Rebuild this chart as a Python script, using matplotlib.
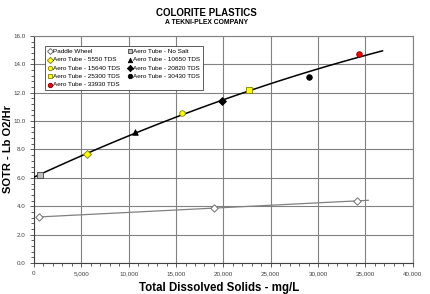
import numpy as np
import matplotlib.pyplot as plt
from matplotlib.ticker import MultipleLocator, FuncFormatter

# paddle wheel tests
paddle_tds = [550, 19000, 34100]
paddle_sotr = [3.25, 3.88, 4.38]

# aero tube tests
aero_labels = ["Aero Tube - No Salt", "Aero Tube - 5550 TDS", "Aero Tube - 10650 TDS",
               "Aero Tube - 15640 TDS", "Aero Tube - 20820 TDS", "Aero Tube - 25300 TDS",
               "Aero Tube - 30430 TDS", "Aero Tube - 33930 TDS"]
aero_tds = [630, 5590, 10660, 15620, 19850, 22700, 29000, 34300]
aero_sotr = [6.2, 7.68, 9.23, 10.57, 11.42, 12.19, 13.1, 14.72]
aero_markers = ["s", "D", "^", "o", "D", "s", "o", "o"]
aero_faces = ["#c0c0c0", "#ffff00", "black", "#ffff00", "black", "#ffff00", "black", "#ff0000"]
aero_edges = ["#404040", "#808000", "black", "#808000", "black", "#808000", "black", "#800000"]

plt.rcParams['font.family'] = ['Liberation Sans', 'DejaVu Sans']

fig = plt.figure(figsize=(4.3, 2.94), dpi=100)
ax = fig.add_axes([0.079, 0.105, 0.881, 0.773])

# trend lines
c = np.polyfit(aero_tds, aero_sotr, 2)
xs = np.linspace(0, 36800, 100)
ax.plot(xs, np.polyval(c, xs), color="black", lw=1.1, zorder=3)
c2 = np.polyfit(paddle_tds, paddle_sotr, 1)
xs2 = np.linspace(550, 35300, 10)
ax.plot(xs2, np.polyval(c2, xs2), color="#808080", lw=0.9, zorder=3)

handles = []
h = ax.scatter(paddle_tds, paddle_sotr, marker="D", s=14, facecolor="white",
               edgecolor="#707070", linewidths=0.7, zorder=4, label="Paddle Wheel")
handles.append(h)
for lab, x, y, m, f, e in zip(aero_labels, aero_tds, aero_sotr, aero_markers, aero_faces, aero_edges):
    s = 16 if m != "s" else 20
    h = ax.scatter([x], [y], marker=m, s=s, facecolor=f, edgecolor=e,
                   linewidths=0.6, zorder=5, label=lab)
    handles.append(h)

ax.set_xlim(0, 40000)
ax.set_ylim(0, 16)
ax.xaxis.set_major_locator(MultipleLocator(5000))
ax.xaxis.set_minor_locator(MultipleLocator(1000))
ax.yaxis.set_major_locator(MultipleLocator(2))
ax.yaxis.set_minor_locator(MultipleLocator(0.4))
ax.xaxis.set_major_formatter(FuncFormatter(lambda v, p: f"{int(v):,}"))
ax.yaxis.set_major_formatter(FuncFormatter(lambda v, p: f"{v:.1f}"))
ax.grid(True, which="major", color="#808080", lw=0.8)
ax.set_axisbelow(True)
ax.tick_params(which="both", labelsize=4.5, colors="#404040", length=2, width=0.6, pad=3)
ax.tick_params(which="major", length=3)
for sp in ax.spines.values():
    sp.set_color("#808080")
    sp.set_linewidth(0.8)
ax.spines["left"].set_color("#404040")
ax.spines["bottom"].set_color("#404040")

ax.set_xlabel("Total Dissolved Solids - mg/L", fontsize=8.3, fontweight="bold")
ax.set_ylabel("SOTR - Lb O2/Hr", fontsize=8, fontweight="bold")
ax.xaxis.set_label_coords(0.49, -0.085)
ax.yaxis.set_label_coords(-0.056, 0.5)

fig.text(0.48, 0.955, "COLORITE PLASTICS", ha="center", va="center", fontsize=7, fontweight="bold")
fig.text(0.48, 0.922, "A TEKNI-PLEX COMPANY", ha="center", va="center", fontsize=4.9, fontweight="bold")

# legend in two columns, filled column by column
col1 = [handles[i] for i in [0, 2, 4, 6, 8]]
col2 = [handles[i] for i in [1, 3, 5, 7]]
leg = ax.legend(col1 + col2, [h.get_label() for h in col1 + col2], ncol=2,
                loc="upper left", bbox_to_anchor=(0.022, 0.97), fontsize=4.6,
                frameon=True, fancybox=False, edgecolor="#404040", framealpha=1,
                handlelength=0.6, handletextpad=0.2, columnspacing=1.2,
                labelspacing=0.45, borderpad=0.4, markerscale=0.8)
leg.get_frame().set_linewidth(0.6)

fig.savefig("out.png", dpi=100)
